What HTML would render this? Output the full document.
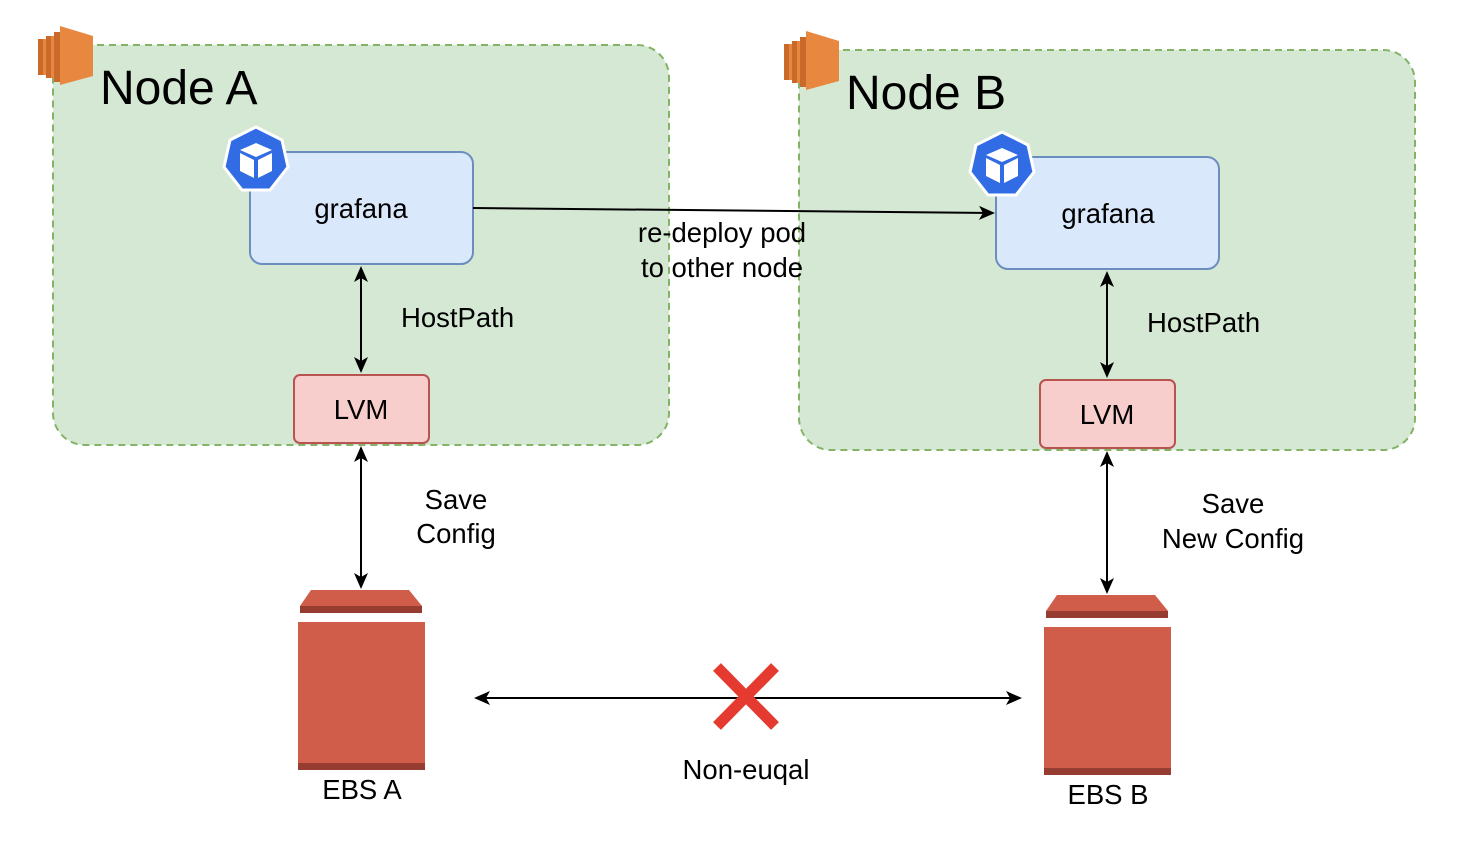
<!DOCTYPE html>
<html><head><style>body{margin:0;background:#fff}svg{display:block}text{font-family:"Liberation Sans",Helvetica,sans-serif}</style></head><body>
<svg width="1472" height="852" viewBox="0 0 1472 852" xmlns="http://www.w3.org/2000/svg">
<defs>
<marker id="ar" markerWidth="16" markerHeight="16" refX="14" refY="7" orient="auto-start-reverse" markerUnits="userSpaceOnUse"><path d="M0,0 L16,7 L0,14 L4,7 Z" fill="#000"/></marker>
<g id="node">
<rect x="53" y="45" width="616" height="400" rx="32" fill="#d5e8d4" stroke="#82b366" stroke-width="2" stroke-dasharray="7,5"/>
<g>
<path d="M60,26 L93,36 L93,76 L60,85 Z" fill="#e8873f"/>
<rect x="38" y="39" width="5" height="36" fill="#c9692a"/>
<rect x="43" y="39" width="3" height="36" fill="#e8873f"/>
<rect x="46" y="36" width="5" height="42" fill="#c9692a"/>
<rect x="51" y="36" width="3" height="42" fill="#e8873f"/>
<rect x="54" y="32" width="6" height="50" fill="#c9692a"/>
</g>
<rect x="250" y="152" width="223" height="112" rx="12" fill="#dae8fc" stroke="#6c8ebf" stroke-width="2"/>
<g transform="translate(256,160)">
<polygon points="0,-33 26,-20 32,7 14,30 -14,30 -32,7 -26,-20" fill="#326ce5" stroke="#fff" stroke-width="3"/>
<polygon points="0,-17 16,-10 0,-3 -16,-10" fill="#fff"/>
<polygon points="-16,-7 -2,0 -2,18 -16,11" fill="#fff"/>
<polygon points="16,-7 2,0 2,18 16,11" fill="#fff"/>
</g>
<rect x="294" y="375" width="135" height="68" rx="6" fill="#f8cecc" stroke="#b85450" stroke-width="2"/>
<line x1="361" y1="268" x2="361" y2="371" stroke="#000" stroke-width="2" marker-start="url(#ar)" marker-end="url(#ar)"/>
<text x="401" y="327" font-size="27.5">HostPath</text>
<line x1="361" y1="448" x2="361" y2="587" stroke="#000" stroke-width="2" marker-start="url(#ar)" marker-end="url(#ar)"/>
<path d="M311,590 L409,590 L422,606 L300,606 Z" fill="#d05c4a"/>
<rect x="300" y="606" width="122" height="7" fill="#973c31"/>
<rect x="298" y="622" width="127" height="148" fill="#d05c4a"/>
<rect x="298" y="763" width="127" height="7" fill="#973c31"/>
</g>
</defs>
<use href="#node"/>
<use href="#node" transform="translate(746,5)"/>
<text x="100" y="104" font-size="48">Node A</text>
<text x="846" y="109" font-size="48">Node B</text>
<text x="361" y="218" font-size="27.5" text-anchor="middle">grafana</text>
<text x="1108" y="223" font-size="27.5" text-anchor="middle">grafana</text>
<text x="361" y="419" font-size="27.5" text-anchor="middle">LVM</text>
<text x="1107" y="424" font-size="27.5" text-anchor="middle">LVM</text>
<text x="362" y="799" font-size="27.5" text-anchor="middle">EBS A</text>
<text x="1108" y="804" font-size="27.5" text-anchor="middle">EBS B</text>
<text x="456" y="509" font-size="27.5" text-anchor="middle">Save</text>
<text x="456" y="543" font-size="27.5" text-anchor="middle">Config</text>
<text x="1233" y="513" font-size="27.5" text-anchor="middle">Save</text>
<text x="1233" y="548" font-size="27.5" text-anchor="middle">New Config</text>
<line x1="473" y1="208" x2="993" y2="213" stroke="#000" stroke-width="2" marker-end="url(#ar)"/>
<text x="722" y="242" font-size="27.5" text-anchor="middle">re-deploy pod</text>
<text x="722" y="277" font-size="27.5" text-anchor="middle">to other node</text>
<line x1="476" y1="698" x2="1020" y2="698" stroke="#000" stroke-width="2" marker-start="url(#ar)" marker-end="url(#ar)"/>
<g stroke="#e53a2f" stroke-width="11"><line x1="717" y1="667" x2="775" y2="726"/><line x1="775" y1="667" x2="717" y2="726"/></g>
<text x="746" y="779" font-size="27.5" text-anchor="middle">Non-euqal</text>
</svg>
</body></html>
